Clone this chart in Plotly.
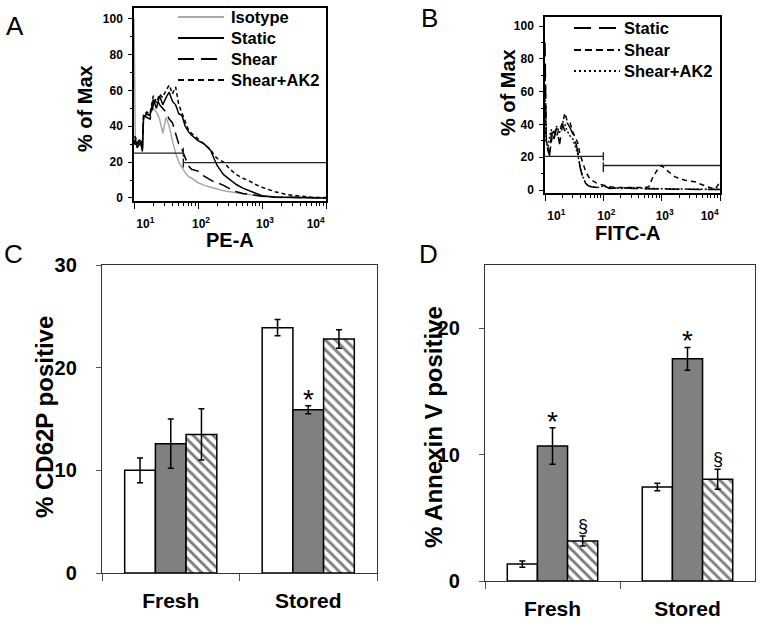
import plotly.graph_objects as go

FONT = "Liberation Sans, Arial, sans-serif"

# ---------------- Panel A: PE-A histograms (% of max) ----------------
pe_channels = [10, 10.5, 11.2, 12.6, 13.5, 14.1, 15.8, 17.8, 20.0, 22.4,
               25.1, 28.2, 31.6, 35.5, 39.8, 44.7, 50.1, 56.2, 63.1, 70.8,
               79.4, 100, 126, 158, 178, 200, 251, 316, 398, 501,
               631, 794, 1000, 1585, 2512, 3981, 6310, 10000]
pe_isotype = [100, 30, 29, 30, 26, 44, 46, 47, 50, 48,
              44, 36, 45, 40, 32, 25, 20, 17, 14, 12,
              11, 8.5, 7, 6, 5.5, 5, 4, 3.5, 3, 2.2,
              1.6, 1.2, 0.8, 0.3, 0.1, 0, 0, 0]
pe_static = [30, 33, 28, 31, 27, 45, 47, 46, 55, 50,
             57, 52, 56, 59, 54, 52, 47, 46, 40, 37,
             35, 32, 30, 26.5, 22, 18, 13, 10, 7.5, 5.5,
             4, 2.5, 1.2, 0.5, 0.3, 0.2, 0.1, 0]
pe_shear = [31, 30, 30, 32, 26, 46, 45, 44, 52, 56,
            52, 50, 48, 44, 42, 36, 30, 27, 22, 18,
            16, 15, 12, 10, 9, 8.5, 7, 5, 3.5, 2.5,
            2, 1.5, 1, 0.5, 0.3, 0.1, 0, 0]
pe_shear_ak2 = [34, 34, 31, 33, 28, 46, 48, 47, 57, 53,
                58, 56, 60, 63, 58, 62, 52, 47, 42, 38,
                36, 33, 30, 27, 24, 22, 20, 16, 13, 11,
                9.5, 7.5, 6, 3.5, 1.8, 1, 0.3, 0.2]
pe_gate_levels = [25, 19.7]
pe_gate_bounds = [10, 59, 10000]
pe_gate_bars = [[28, 23], [22, 17]]

# ---------------- Panel B: FITC-A histograms (% of max) ----------------
fitc_channels = [10, 10.5, 11.2, 12.0, 12.9, 14.1, 15.8, 17.8, 20.0, 21.9,
                 24.0, 26.9, 30.2, 33.1, 36.3, 39.8, 44.7, 50.1, 56.2, 63.1,
                 79.4, 100, 126, 200, 316, 501, 603, 708, 832, 1000,
                 1230, 1698, 2512, 3715, 6026, 8318, 10000]
fitc_static = [90, 32, 24, 21, 35, 30, 38, 28, 40, 36,
               41, 38, 34, 30, 24, 14, 7, 4, 2.5, 2,
               1.5, 3, 1, 1.5, 1, 0.8, 0.8, 0.5, 0.5, 0.5,
               0.5, 0.5, 0.5, 0.3, 0.3, 0.3, 0.3]
fitc_shear = [75, 30, 27, 22, 30, 36, 33, 38, 40, 47,
              42, 41, 35, 32, 29, 22, 16, 11, 8, 6,
              4, 3, 2, 1.5, 1.5, 1.5, 2, 8, 12, 15,
              12, 8, 6, 5, 2, 0.5, 5]
fitc_shear_ak2 = [60, 30, 25, 33, 37, 31, 39, 35, 42, 40,
                  36, 33, 31, 27, 22, 15, 8, 4, 2.5, 2,
                  1.5, 2.5, 1.5, 1, 1.5, 1, 1, 1, 1, 1,
                  0.8, 0.8, 0.6, 0.5, 0.5, 0.5, 0.5]
fitc_gate_levels = [20.5, 15]
fitc_gate_bounds = [10, 100, 10000]
fitc_gate_bars = [[23, 18], [17, 11]]

# ---------------- Panels C and D: bar charts ----------------
groups = ["Fresh", "Stored"]
cd62p_static = [10.0, 23.9]
cd62p_static_err = [1.2, 0.8]
cd62p_shear = [12.6, 15.9]
cd62p_shear_err = [2.4, 0.4]
cd62p_ak2 = [13.5, 22.8]
cd62p_ak2_err = [2.5, 0.9]
cd62p_marks = [["", ""], ["", "*"], ["", ""]]

annexin_static = [1.34, 7.44]
annexin_static_err = [0.25, 0.3]
annexin_shear = [10.68, 17.58]
annexin_shear_err = [1.45, 0.9]
annexin_ak2 = [3.16, 8.05]
annexin_ak2_err = [0.4, 0.8]
annexin_marks = [["", ""], ["*", "*"], ["§", "§"]]

hist_ticks = [10, 100, 1000, 10000]
NB = "\u00a0"
hist_ticktext = [NB * 5 + "10<sup>1</sup>", "10<sup>2</sup>",
                 "10<sup>3</sup>", "10<sup>4</sup>" + NB * 8]
minor_x = [k * 10 ** d for d in range(1, 4) for k in range(2, 10)]

# legend entries: (name, colour, legend dash, curve dash) per panel
legend_a = [("Isotype", "#a8a8a8", "solid", "solid"), ("Static", "black", "solid", "solid"),
            ("Shear", "black", "16px,7px", "12px,6px"),
            ("Shear+AK2", "black", "6px,4px", "4px,3px")]
legend_b = [("Static", "black", "17px,8px", "14px,7px"), ("Shear", "black", "7px,4px", "5px,4px"),
            ("Shear+AK2", "black", "2px,3px", "2px,2px")]

fig = go.Figure()

# ---- Panel A traces
for (name, color, _, cdash), ys in zip(legend_a, [pe_isotype, pe_static, pe_shear, pe_shear_ak2]):
    fig.add_trace(go.Scatter(x=pe_channels, y=ys, mode="lines", name=name, showlegend=False,
                             line=dict(color=color, width=1.5, dash=cdash),
                             xaxis="x", yaxis="y"))
for i, lvl in enumerate(pe_gate_levels):
    if i == 0:
        gx = [pe_gate_bounds[0], pe_gate_bounds[1], pe_gate_bounds[1], pe_gate_bounds[1]]
        gy = [lvl, lvl, pe_gate_bars[0][0], pe_gate_bars[0][1]]
    else:
        gx = [pe_gate_bounds[1], pe_gate_bounds[1], pe_gate_bounds[1], pe_gate_bounds[2]]
        gy = [pe_gate_bars[1][0], pe_gate_bars[1][1], lvl, lvl]
    fig.add_trace(go.Scatter(x=gx, y=gy, mode="lines", showlegend=False,
                             line=dict(color="#222", width=1.4), xaxis="x", yaxis="y"))

# ---- Panel B traces
for (name, color, _, cdash), ys in zip(legend_b, [fitc_static, fitc_shear, fitc_shear_ak2]):
    fig.add_trace(go.Scatter(x=fitc_channels, y=ys, mode="lines", name=name, showlegend=False,
                             line=dict(color=color, width=1.5, dash=cdash),
                             xaxis="x2", yaxis="y2"))
for i, lvl in enumerate(fitc_gate_levels):
    if i == 0:
        gx = [fitc_gate_bounds[0], fitc_gate_bounds[1], fitc_gate_bounds[1], fitc_gate_bounds[1]]
        gy = [lvl, lvl, fitc_gate_bars[0][0], fitc_gate_bars[0][1]]
    else:
        gx = [fitc_gate_bounds[1], fitc_gate_bounds[1], fitc_gate_bounds[1], fitc_gate_bounds[2]]
        gy = [fitc_gate_bars[1][0], fitc_gate_bars[1][1], lvl, lvl]
    fig.add_trace(go.Scatter(x=gx, y=gy, mode="lines", showlegend=False,
                             line=dict(color="#222", width=1.4), xaxis="x2", yaxis="y2"))

# ---- Bar panels
def bar_styles():
    return [dict(color="white"),
            dict(color="#808080"),
            dict(color="white", pattern=dict(shape="\\", fgcolor="black", bgcolor="white",
                                             size=7, solidity=0.42))]

bar_sets = [("3", [(cd62p_static, cd62p_static_err), (cd62p_shear, cd62p_shear_err),
                   (cd62p_ak2, cd62p_ak2_err)], cd62p_marks),
            ("4", [(annexin_static, annexin_static_err), (annexin_shear, annexin_shear_err),
                   (annexin_ak2, annexin_ak2_err)], annexin_marks)]

for axn, series, _ in bar_sets:
    for (vals, errs), st in zip(series, bar_styles()):
        mk = dict(st)
        mk["line"] = dict(color="black", width=1.5)
        fig.add_trace(go.Bar(x=groups, y=vals, marker=mk, showlegend=False,
                             error_y=dict(type="data", array=errs, color="black",
                                          thickness=1.5, width=3),
                             xaxis="x" + axn, yaxis="y" + axn))

annotations = []
shapes = []
BW = 30.5
for axn, series, marks in bar_sets:
    for si, ((vals, errs), mrow) in enumerate(zip(series, marks)):
        for gi, g in enumerate(groups):
            m = mrow[gi]
            if not m:
                continue
            star = (m == "*")
            annotations.append(dict(
                x=g, y=vals[gi] + errs[gi], xref="x" + axn, yref="y" + axn,
                text=m, showarrow=False, xshift=(si - 1) * BW,
                yanchor="bottom", yshift=-11 if star else -2,
                font=dict(family=FONT, size=28 if star else 18, color="black")))

def label(text, x, y, size, angle=0, bold=True, anchor="center"):
    return dict(text=text, x=x / 764, y=1 - y / 627, xref="paper", yref="paper",
                showarrow=False, textangle=angle, xanchor=anchor, yanchor="middle",
                font=dict(family=FONT, size=size, color="black",
                          weight="bold" if bold else "normal"))

# manual legends (sample line + label)
for entries, x0, x1, xt, rows in [(legend_a, 178, 224, 229, [17, 38, 59, 80]),
                                  (legend_b, 574, 620, 622, [28, 50, 71])]:
    for (name, color, dash, _), ry in zip(entries, rows):
        shapes.append(dict(type="line", xref="paper", yref="paper",
                           x0=x0 / 764, x1=x1 / 764, y0=1 - ry / 627, y1=1 - ry / 627,
                           line=dict(color=color, width=1.8, dash=dash)))
        annotations.append(label(name, xt, ry, 16.5, anchor="left"))

annotations += [
    label("A", 15, 26, 26, bold=False),
    label("B", 430, 18, 26, bold=False),
    label("C", 13, 254, 26, bold=False),
    label("D", 428, 254, 26, bold=False),
    label("% of Max", 85, 109, 20, -90),
    label("PE-A", 230, 240, 20),
    label("% of Max", 508, 93, 20, -90),
    label("FITC-A", 628, 233, 20),
    label("% CD62P positive", 44, 417, 24, -90),
    label("% Annexin V positive", 433, 427, 24, -90),
]

def px_x(a, b):
    return [a / 764, b / 764]

def px_y(top, bottom):
    return [1 - bottom / 627, 1 - top / 627]

tickfont_small = dict(family=FONT, size=12, color="black", weight="bold")
tickfont_big = dict(family=FONT, size=20, color="black", weight="bold")
catfont = dict(family=FONT, size=21, color="black", weight="bold")

def hist_x(domain, anchor):
    return dict(type="log", range=[1, 4], domain=domain, anchor=anchor, automargin=False,
                showline=True, linecolor="black",
                linewidth=1.5, mirror=True, ticks="outside", ticklen=6, tickwidth=1.2,
                tickcolor="black", tickvals=hist_ticks, ticktext=hist_ticktext,
                tickfont=tickfont_small, showgrid=False, zeroline=False,
                ticklabelstandoff=5, ticklabelshift=3,
                minor=dict(tickvals=minor_x, ticks="outside", ticklen=3, tickwidth=1,
                           tickcolor="black", showgrid=False))

def hist_y(domain, rng, anchor):
    return dict(range=rng, domain=domain, anchor=anchor, automargin=False, showline=True,
                linecolor="black",
                linewidth=1.5, mirror=True, ticks="outside", ticklen=4, tickwidth=1.2,
                tickcolor="black", tickvals=[0, 20, 40, 60, 80, 100], tickfont=tickfont_small,
                showgrid=False, zeroline=False, ticklabelstandoff=3,
                minor=dict(tickvals=[10, 30, 50, 70, 90], ticks="outside", ticklen=2,
                           tickwidth=1, tickcolor="black", showgrid=False))

def bar_x(domain, anchor):
    return dict(type="category", domain=domain, anchor=anchor, automargin=False, showline=True,
                linecolor="#333", linewidth=1.3, mirror=True, ticks="outside",
                tickson="boundaries", ticklen=7, tickcolor="#555", tickwidth=1,
                tickfont=catfont, ticklabelstandoff=9, showgrid=False)

def bar_y(domain, rng, tv, anchor):
    return dict(range=rng, domain=domain, anchor=anchor, automargin=False, showline=True,
                linecolor="#333",
                linewidth=1.3, mirror=True, ticks="outside", ticklen=5, tickcolor="#555",
                tickvals=tv, tickfont=tickfont_big, showgrid=False, zeroline=False,
                ticklabelstandoff=15)

fig.update_layout(
    width=764, height=627, margin=dict(l=0, r=0, t=0, b=0, autoexpand=False),
    paper_bgcolor="white", plot_bgcolor="white", showlegend=False,
    barmode="group", bargap=0.33, bargroupgap=0,
    xaxis=hist_x(px_x(134, 326), "y"),
    yaxis=hist_y(px_y(8, 201), [-1.7, 106], "x"),
    xaxis2=hist_x(px_x(545, 720), "y2"),
    yaxis2=hist_y(px_y(17, 193), [-1.8, 105.5], "x2"),
    xaxis3=bar_x(px_x(102, 377), "y3"),
    yaxis3=bar_y(px_y(265, 573), [0, 30], [0, 10, 20, 30], "x3"),
    xaxis4=bar_x(px_x(485, 755), "y4"),
    yaxis4=bar_y(px_y(265, 581), [0, 25], [0, 10, 20], "x4"),
    annotations=annotations,
    shapes=shapes,
)

fig.write_html("out.html", config={"displayModeBar": False},
               post_script="document.body.style.margin='0';document.body.style.padding='0';")
